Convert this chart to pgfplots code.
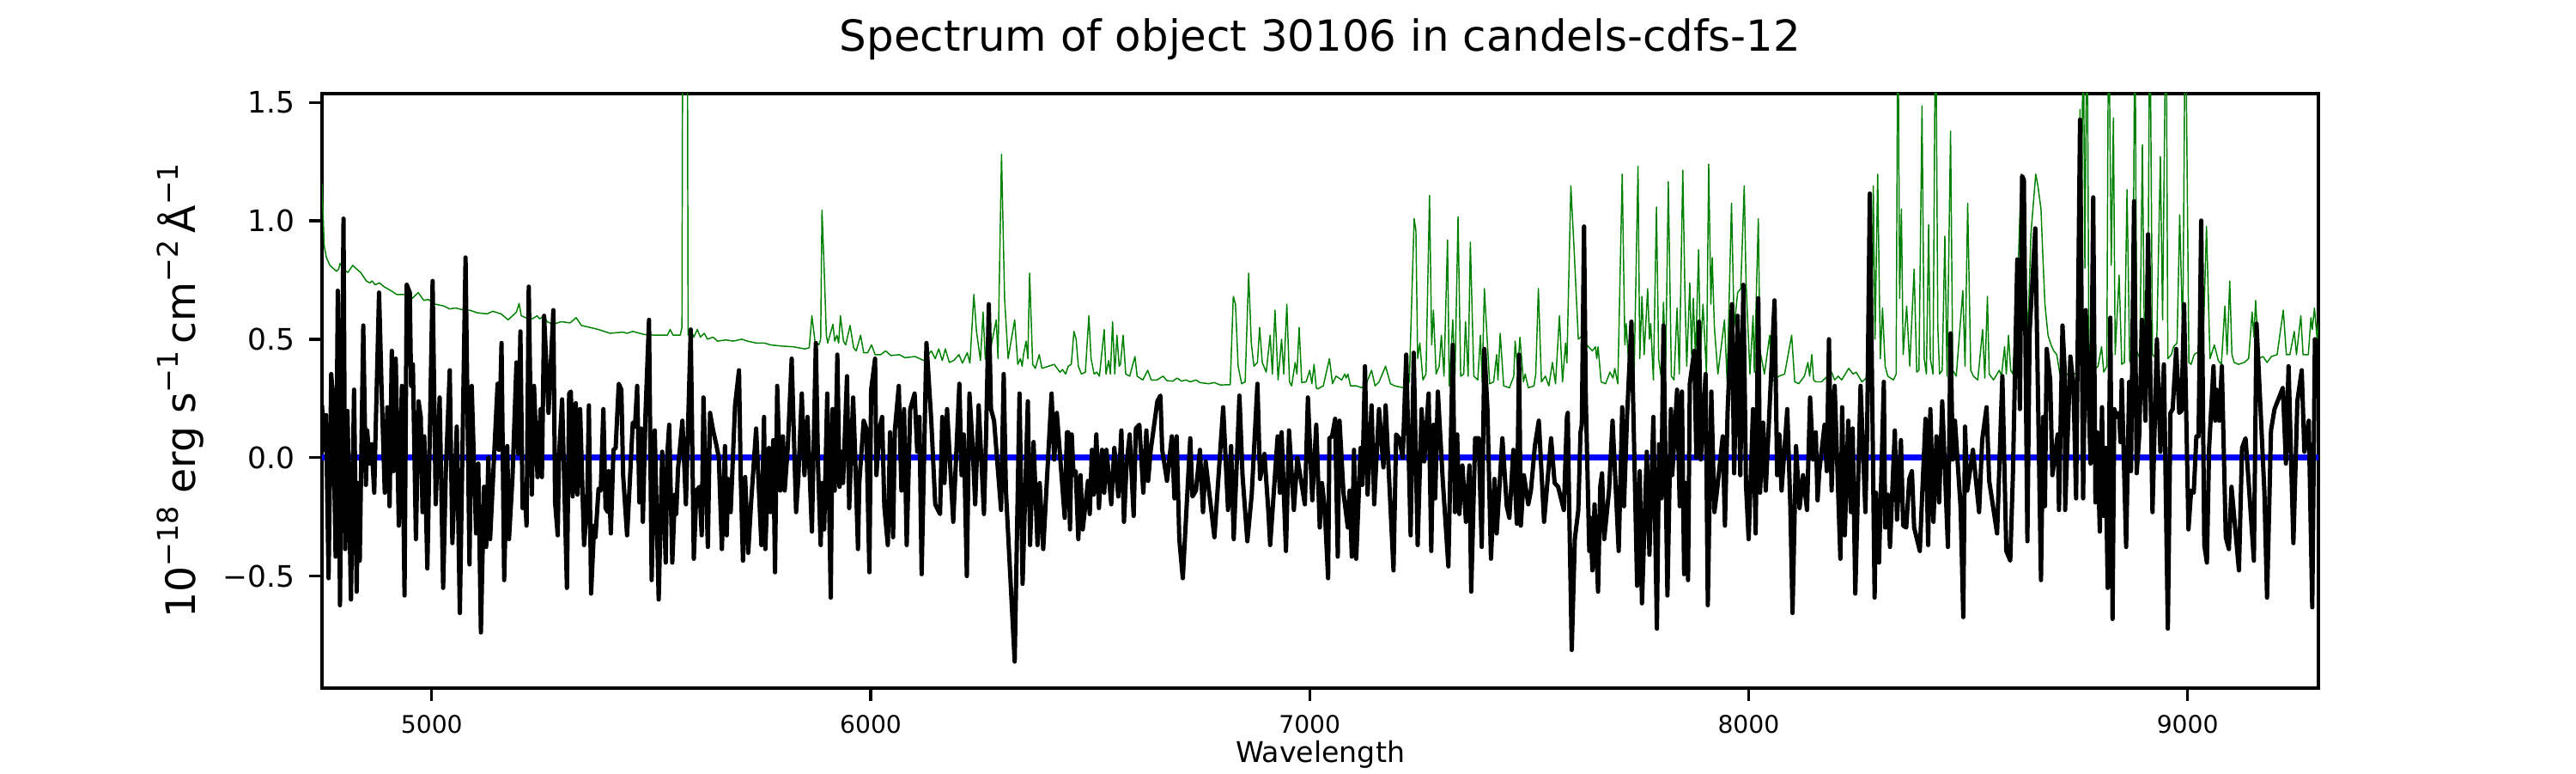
\documentclass[border=0pt]{standalone}
\usepackage{fontspec}
\setmainfont{DejaVu Sans}
\usepackage{pgfplots}
\pgfplotsset{compat=1.18}
\definecolor{mplgreen}{RGB}{0,128,0}
\definecolor{mplblue}{RGB}{0,0,255}
\newcommand{\supr}[1]{\raisebox{4.9bp}{\fontsize{8}{9}\selectfont #1}}
\begin{document}
\begin{tikzpicture}
\begin{axis}[
  at={(90bp,23.76bp)}, anchor=south west,
  scale only axis, width=558bp, height=166.08bp,
  xmin=4750, xmax=9298, ymin=-0.973, ymax=1.537,
  axis line style={line width=0.8bp},
  tick style={line width=0.8bp, black},
  tick align=outside, major tick length=3.5bp,
  xtick pos=left, ytick pos=left,
  xtick={5000,6000,7000,8000,9000},
  xticklabels={5000,6000,7000,8000,9000},
  ytick={-0.5,0,0.5,1,1.5},
  yticklabels={−0.5,0.0,0.5,1.0,1.5},
  xticklabel style={font=\fontsize{6.8}{8}\selectfont, inner sep=0pt, anchor=north, yshift=-3.9bp},
  yticklabel style={font=\fontsize{8.3}{9}\selectfont, inner sep=0pt, anchor=east, xshift=-3.9bp},
  title={Spectrum of object 30106 in candels-cdfs-12},
  title style={at={(axis description cs:0.5,1)}, anchor=base, yshift=6bp, inner sep=0pt, font=\fontsize{12}{14}\selectfont},
  xlabel={Wavelength},
  xlabel style={at={(axis description cs:0.5,-0.1256)}, anchor=base, inner sep=0pt, font=\fontsize{8}{9}\selectfont},
  ylabel={10\supr{−18} erg s\supr{−1}\,cm\supr{−2}\,Å\supr{−1}},
  ylabel style={at={(axis description cs:-0.0633,0.5)}, anchor=base, inner sep=0pt, font=\fontsize{11.4}{13}\selectfont},
]
% green: noise / sky spectrum
\addplot[mplgreen, line width=0.35bp, line join=round] coordinates {
(4750,1.157)(4755,0.894)(4760,0.845)(4768,0.812)(4783,0.787)(4788,0.796)(4791,0.820)(4799,0.796)(4809,0.782)(4820,0.812)(4829,0.796)(4838,0.782)(4851,0.746)(4859,0.738)(4864,0.746)(4871,0.730)(4881,0.738)(4891,0.722)(4907,0.705)(4920,0.689)(4936,0.689)(4946,0.697)(4956,0.673)(4969,0.697)(4982,0.664)(4992,0.668)(5008,0.648)(5028,0.640)(5041,0.628)(5054,0.632)(5073,0.623)(5086,0.623)(5103,0.612)(5126,0.607)(5139,0.618)(5158,0.607)(5174,0.582)(5184,0.599)(5193,0.615)(5199,0.651)(5204,0.599)(5214,0.591)(5230,0.587)(5240,0.599)(5246,0.586)(5255,0.599)(5263,0.574)(5276,0.563)(5295,0.574)(5315,0.569)
(5329,0.591)(5341,0.558)(5360,0.550)(5380,0.541)(5406,0.525)(5435,0.530)(5445,0.525)(5458,0.533)(5484,0.520)(5510,0.517)(5537,0.517)(5543,0.541)(5550,0.517)(5566,0.517)(5570,0.55)(5573,3.0)(5581,3.0)(5584,0.517)(5592,0.533)(5597,0.509)(5605,0.541)(5612,0.509)(5621,0.525)(5628,0.500)(5641,0.509)(5651,0.492)(5670,0.497)(5687,0.492)(5706,0.500)(5719,0.492)(5739,0.484)(5758,0.484)(5772,0.476)(5798,0.471)(5824,0.468)(5850,0.459)(5860,0.464)(5866,0.599)(5873,0.492)(5882,0.476)
(5886,0.50)(5889,1.045)(5894,0.796)(5899,0.517)(5902,0.484)(5914,0.563)(5918,0.492)(5923,0.517)(5927,0.484)(5931,0.599)(5938,0.492)(5943,0.476)(5953,0.558)(5961,0.464)(5967,0.451)(5977,0.517)(5984,0.443)(5993,0.443)(6002,0.476)(6010,0.435)(6023,0.435)(6034,0.451)(6046,0.431)(6065,0.435)(6078,0.422)(6101,0.427)(6121,0.410)(6138,0.451)(6147,0.418)(6155,0.459)(6163,0.410)(6170,0.459)(6179,0.402)(6189,0.410)(6201,0.435)(6209,0.399)(6220,0.443)(6226,0.399)(6235,0.689)(6241,0.533)(6250,0.410)(6256,0.615)(6261,0.418)(6267,0.402)(6286,0.582)(6290,0.418)(6298,1.280)(6305,0.673)(6313,0.418)(6328,0.582)(6335,0.394)(6341,0.418)(6345,0.386)(6348,0.435)(6354,0.492)(6358,0.418)(6362,0.779)(6369,0.394)(6375,0.377)(6384,0.435)(6390,0.377)(6405,0.386)(6418,0.394)(6431,0.361)(6437,0.372)(6444,0.353)(6450,0.386)
(6457,0.394)(6463,0.533)(6468,0.500)(6473,0.386)(6480,0.353)(6489,0.361)(6497,0.599)(6502,0.418)(6509,0.353)(6515,0.361)(6521,0.344)(6532,0.541)(6536,0.353)(6542,0.410)(6546,0.353)(6551,0.574)(6556,0.353)(6561,0.517)(6566,0.386)(6569,0.394)(6575,0.517)(6581,0.353)(6590,0.344)(6602,0.427)(6607,0.344)(6620,0.328)(6631,0.369)(6639,0.328)(6652,0.328)(6666,0.344)(6675,0.325)(6688,0.323)(6698,0.336)(6708,0.323)(6718,0.328)(6728,0.320)(6741,0.328)(6750,0.317)(6770,0.312)(6783,0.317)(6796,0.307)(6819,0.308)(6826,0.681)(6831,0.648)(6837,0.386)(6845,0.312)(6853,0.320)(6861,0.779)(6867,0.484)(6873,0.386)(6881,0.402)(6886,0.550)(6892,0.402)(6901,0.361)(6910,0.517)(6915,0.353)(6921,0.623)(6928,0.328)(6936,0.500)(6941,0.353)(6948,0.648)(6954,0.320)(6959,0.303)(6967,0.402)(6971,0.353)(6976,0.550)(6982,0.317)(6992,0.320)(7000,0.369)(7005,0.312)(7010,0.394)(7015,0.295)(7018,0.290)
(7031,0.303)(7045,0.418)(7052,0.312)(7060,0.344)(7073,0.328)(7080,0.353)(7083,0.336)(7087,0.353)(7093,0.303)(7106,0.303)(7119,0.295)(7129,0.312)(7141,0.369)(7149,0.303)(7158,0.320)(7173,0.386)(7184,0.312)(7194,0.303)(7214,0.295)(7227,0.320)(7238,1.009)(7242,0.960)(7246,0.418)(7251,0.484)(7258,0.328)(7265,0.353)(7273,1.107)(7278,0.476)(7282,0.623)(7288,0.353)(7295,0.386)(7300,0.517)(7306,0.344)(7314,0.919)(7318,0.303)(7326,0.582)(7331,0.344)(7338,1.017)(7344,0.344)(7351,0.353)(7355,0.574)(7361,0.344)(7366,0.910)(7374,0.344)(7383,0.328)(7389,0.517)(7393,0.320)(7398,0.714)(7410,0.312)(7419,0.320)(7426,0.435)(7429,0.328)(7434,0.525)(7442,0.303)(7455,0.295)(7465,0.344)(7468,0.492)(7474,0.369)(7479,0.509)(7487,0.320)(7491,0.353)(7498,0.295)(7511,0.303)(7515,0.353)(7521,0.714)(7528,0.320)(7537,0.344)(7545,0.303)(7553,0.402)(7560,0.312)(7569,0.599)(7576,0.320)(7583,0.484)(7586,0.40)
(7595,1.148)(7602,0.894)(7612,0.500)(7622,0.517)(7631,0.476)(7644,0.451)(7651,0.468)(7654,0.418)(7657,0.468)(7664,0.320)(7674,0.312)(7684,0.361)(7691,0.336)(7695,0.377)(7702,0.312)(7712,1.197)(7718,0.476)(7721,0.566)(7726,0.418)(7739,0.336)(7748,1.230)(7752,0.418)(7757,0.681)(7762,0.435)(7770,0.714)(7774,0.500)(7777,0.566)(7783,0.328)(7790,1.058)(7795,0.418)(7801,0.336)(7806,0.656)(7811,0.386)(7817,1.165)(7824,0.344)(7830,0.328)(7837,0.632)(7842,0.353)(7850,1.214)(7855,0.681)(7859,0.386)(7866,0.738)(7870,0.435)(7874,0.673)(7879,0.418)(7886,0.878)(7890,0.435)(7896,0.648)(7904,0.353)(7909,1.239)(7914,0.648)(7917,0.845)(7922,0.550)(7930,0.353)(7945,0.582)(7951,0.320)(7961,1.074)(7967,0.550)(7975,0.697)(7982,0.714)(7990,1.148)(7994,0.746)(8003,0.353)(8010,0.599)(8013,0.361)(8022,1.009)(8026,0.451)(8036,0.353)(8048,0.517)(8053,0.320)(8069,0.344)(8082,0.353)(8098,0.517)(8105,0.320)(8114,0.312)(8127,0.344)(8135,0.402)(8139,0.344)(8144,0.435)(8148,0.328)(8153,0.320)
(8166,0.320)(8189,0.361)(8196,0.328)(8204,0.344)(8212,0.328)(8228,0.377)(8238,0.353)(8245,0.361)(8258,0.320)(8268,0.336)(8280,0.36)(8284,1.148)(8288,0.500)(8294,1.197)(8300,0.418)(8305,0.632)(8311,0.386)(8317,0.344)(8330,0.328)(8336,0.353)(8340,2.0)(8344,0.673)(8348,1.050)(8352,0.435)(8360,0.640)(8367,0.386)(8377,0.796)(8383,0.361)(8388,0.369)(8395,1.485)(8400,0.418)(8405,0.353)(8410,0.984)(8414,0.418)(8420,0.353)(8426,2.0)(8431,0.550)(8435,0.353)(8441,0.369)(8447,0.935)(8452,0.344)(8460,1.378)(8465,0.369)(8473,0.344)(8488,0.705)(8493,0.386)(8499,1.074)(8506,0.369)(8512,0.344)(8522,0.328)(8533,0.541)(8538,0.336)(8544,0.681)(8548,0.353)(8558,0.328)(8571,0.369)(8576,0.344)(8583,0.468)(8587,0.353)(8592,0.517)(8597,0.369)(8602,0.353)(8613,0.746)(8621,1.197)(8636,0.517)(8643,0.943)(8654,1.197)(8659,1.148)(8666,1.050)(8670,0.861)(8675,0.648)(8682,0.517)(8689,0.476)(8695,0.451)(8702,0.435)(8709,0.353)(8721,0.344)
(8731,0.361)(8741,0.353)(8750,0.36)(8753,0.40)(8755,1.47)(8758,0.70)(8762,2.0)(8766,0.8)(8771,2.0)(8775,0.5)(8780,0.361)(8796,0.386)(8804,0.468)(8809,0.361)(8816,0.386)(8820,2.0)(8826,0.812)(8831,1.435)(8835,0.435)(8844,0.771)(8850,0.394)(8856,0.402)(8862,1.132)(8868,0.410)(8875,0.377)(8880,2.0)(8884,0.451)(8891,0.42)(8897,1.321)(8902,0.418)(8909,0.45)(8914,2.0)(8920,0.435)(8929,0.418)(8938,1.271)(8943,0.582)(8951,2.0)(8955,0.418)(8963,0.435)(8968,0.468)(8976,0.484)(8982,1.025)(8989,0.500)(8995,2.0)(9003,0.402)(9008,0.394)(9015,0.435)(9021,0.443)(9035,0.45)(9043,0.976)(9051,0.418)(9061,0.476)(9070,0.410)(9077,0.394)(9085,0.640)(9090,0.435)(9096,0.746)(9101,0.435)(9106,0.402)(9116,0.394)(9129,0.402)(9139,0.418)(9147,0.615)(9151,0.509)(9155,0.664)(9162,0.418)(9172,0.427)(9181,0.402)(9191,0.427)(9204,0.435)(9218,0.623)(9225,0.435)(9233,0.435)(9243,0.533)(9248,0.435)(9258,0.599)(9263,0.435)(9275,0.435)(9281,0.591)(9284,0.541)(9289,0.632)(9295,0.50)(9299,0.58)
};
% blue zero line
\addplot[mplblue, line width=1.6bp] coordinates {(4750,0)(9298,0)};
% black: object spectrum
\addplot[black, line width=1.2bp, line join=round] coordinates {
(4750,0.221)(4755,0.033)(4759,0.180)(4765,-0.509)(4771,0.353)(4775,0.254)(4781,-0.418)(4786,0.705)(4791,-0.623)(4799,1.009)(4803,-0.386)(4808,0.197)(4816,-0.599)(4823,0.287)(4829,-0.566)(4832,-0.107)(4836,-0.435)(4844,0.558)(4850,-0.115)(4853,0.115)(4858,-0.025)(4863,0.057)(4869,-0.148)(4873,0.172)(4880,0.697)(4886,0.271)(4893,-0.148)(4899,0.213)(4904,-0.205)(4909,0.451)(4913,-0.057)(4918,0.418)(4925,-0.287)(4932,0.303)(4938,-0.582)(4943,0.730)(4950,0.697)(4953,0.303)(4957,0.394)(4964,-0.344)(4970,0.238)(4975,0.172)(4979,-0.230)(4983,0.090)(4990,-0.468)(5002,0.746)(5009,-0.197)(5018,0.254)(5026,-0.550)(5032,-0.066)(5041,0.369)(5047,-0.361)(5057,0.131)(5064,-0.656)(5077,0.845)(5086,-0.451)(5091,0.303)(5101,-0.320)(5106,-0.025)(5112,-0.738)(5119,-0.123)(5124,-0.377)(5129,0.000)(5133,-0.344)(5150,0.312)(5153,0.033)(5159,0.484)(5165,-0.517)(5172,0.049)(5176,-0.344)(5184,-0.082)(5193,0.402)(5197,0.016)(5202,0.533)(5207,-0.213)(5212,-0.139)(5216,-0.287)(5221,0.722)(5228,-0.156)(5233,0.303)(5241,-0.082)(5248,0.205)(5251,-0.082)(5256,0.599)(5266,0.189)(5277,0.623)(5281,-0.189)(5287,-0.328)(5290,0.008)(5297,0.246)(5308,-0.550)(5313,0.271)
(5317,0.279)(5321,-0.164)(5328,0.230)(5332,-0.156)(5338,0.205)(5347,-0.369)(5354,-0.197)(5358,0.221)(5363,-0.574)(5370,-0.287)(5373,-0.336)(5380,-0.131)(5385,-0.139)(5391,0.205)(5396,-0.213)(5401,-0.230)(5403,-0.057)(5408,-0.320)(5414,0.033)(5419,0.041)(5426,0.312)(5432,0.287)(5436,-0.074)(5445,-0.328)(5452,-0.074)(5458,0.148)(5463,0.131)(5468,0.303)(5473,-0.189)(5477,0.123)(5481,-0.271)(5487,0.189)(5495,0.582)(5501,-0.517)(5508,0.115)(5517,-0.599)(5525,0.025)(5533,-0.443)(5537,0.025)(5541,0.139)(5548,-0.443)(5554,-0.156)(5557,-0.238)(5561,-0.049)(5571,0.156)(5579,-0.197)(5590,0.541)(5597,-0.427)(5603,-0.139)(5610,-0.123)(5615,-0.328)(5619,0.254)(5629,-0.377)(5634,0.189)(5641,0.115)(5648,0.057)(5654,0.000)(5661,-0.386)(5668,0.049)(5672,-0.328)(5675,-0.090)(5681,-0.230)(5691,0.221)(5700,0.369)(5704,-0.090)(5709,-0.435)(5714,-0.082)(5721,-0.402)(5727,-0.205)(5739,0.123)(5751,-0.369)(5757,0.172)(5760,-0.386)(5768,0.041)(5772,-0.230)(5778,0.074)(5782,-0.484)(5787,0.303)(5794,-0.139)(5800,0.090)(5804,-0.139)(5811,0.041)(5820,0.418)(5830,-0.230)(5835,-0.090)(5843,0.271)(5849,-0.074)(5856,0.172)(5866,-0.312)(5875,0.484)(5880,-0.033)
(5886,-0.369)(5890,-0.107)(5894,-0.303)(5901,0.271)(5909,-0.591)(5913,0.205)(5918,-0.139)(5924,0.435)(5929,-0.123)(5933,0.025)(5937,-0.107)(5946,0.344)(5951,-0.213)(5960,0.254)(5964,0.041)(5971,-0.386)(5974,-0.107)(5984,0.156)(5990,0.123)(5997,-0.484)(6001,0.287)(6010,0.418)(6013,-0.074)(6020,0.123)(6026,0.172)(6031,-0.205)(6039,-0.369)(6044,0.107)(6051,-0.336)(6055,0.115)(6064,0.303)(6070,-0.139)(6076,0.205)(6082,-0.369)(6090,0.205)(6100,0.271)(6106,0.025)(6111,0.172)(6116,-0.492)(6127,0.484)(6138,0.156)(6147,-0.197)(6158,-0.238)(6163,0.172)(6168,-0.107)(6174,0.205)(6188,-0.271)(6202,0.312)(6207,-0.074)(6212,0.098)(6219,-0.500)(6225,0.271)(6232,0.057)(6238,-0.197)(6246,0.221)(6258,-0.238)(6263,0.107)(6269,0.648)(6274,0.205)(6281,0.156)(6297,-0.221)(6303,0.353)(6308,-0.139)(6328,-0.861)(6339,0.271)(6346,-0.533)(6358,0.238)(6363,-0.369)(6371,0.066)(6380,-0.369)(6385,-0.107)(6393,-0.386)(6412,0.271)(6418,-0.008)(6424,0.189)(6442,-0.254)(6447,0.107)
(6450,0.107)(6454,-0.303)(6458,0.098)(6462,-0.074)(6467,-0.057)(6473,-0.344)(6478,-0.074)(6483,-0.303)(6495,-0.098)(6499,-0.238)(6504,0.033)(6508,-0.156)(6514,0.098)(6520,-0.213)(6527,0.033)(6532,-0.148)(6537,0.033)(6548,-0.197)(6555,0.041)(6564,-0.164)(6571,0.115)(6577,-0.271)(6583,-0.025)(6590,0.098)(6599,-0.246)(6604,0.123)(6612,0.139)(6621,-0.148)(6628,0.115)(6632,-0.098)(6638,0.033)(6653,0.238)(6660,0.262)(6664,0.033)(6675,-0.098)(6686,0.090)(6692,-0.172)(6697,0.090)(6703,-0.344)(6711,-0.509)(6728,0.082)(6733,-0.164)(6741,-0.139)(6750,0.033)(6757,-0.230)(6763,-0.016)(6783,-0.336)(6803,0.213)(6814,-0.221)(6821,0.049)(6827,-0.344)(6840,0.262)(6847,-0.074)(6858,-0.353)(6868,-0.156)(6881,0.312)(6887,-0.090)(6897,0.016)(6906,-0.230)(6910,-0.369)(6927,0.090)(6932,-0.148)(6936,0.107)(6946,-0.394)(6953,0.115)(6964,-0.221)(6972,0.000)(6989,-0.197)(6996,0.254)(7006,-0.180)(7015,0.139)
(7023,-0.295)(7028,-0.107)(7034,-0.205)(7042,-0.509)(7045,0.082)(7051,0.090)(7058,0.164)(7064,-0.418)(7068,0.156)(7077,-0.148)(7087,-0.295)(7091,-0.139)(7096,-0.418)(7101,0.033)(7106,-0.427)(7116,0.041)(7120,-0.115)(7126,0.386)(7132,-0.156)(7141,0.221)(7147,-0.197)(7152,-0.008)(7158,0.205)(7168,-0.041)(7173,0.221)(7191,-0.476)(7197,0.098)(7204,0.082)(7212,0.000)(7220,0.435)(7230,-0.328)(7237,0.443)(7246,-0.369)(7255,0.205)(7261,-0.016)(7271,0.271)(7277,-0.394)(7282,0.139)(7286,-0.172)(7292,0.279)(7303,-0.090)(7316,-0.459)(7326,0.476)(7331,-0.230)(7336,0.098)(7341,-0.238)(7348,-0.033)(7356,-0.271)(7364,-0.033)(7368,-0.566)(7377,0.082)(7385,0.082)(7392,-0.377)(7398,0.459)(7405,0.205)(7413,-0.427)(7421,-0.090)(7426,-0.320)(7439,0.082)(7449,-0.205)(7455,-0.254)(7464,0.033)(7472,-0.279)(7477,0.435)(7481,-0.287)(7488,-0.074)(7498,-0.197)(7504,-0.139)(7513,0.049)(7522,0.156)(7534,-0.271)(7550,0.082)(7558,-0.107)(7566,-0.123)(7579,-0.221)(7586,0.172)
(7588,0.189)(7590,-0.074)(7597,-0.812)(7604,-0.344)(7612,-0.221)(7617,0.107)(7620,0.139)(7625,0.976)(7629,0.254)(7637,-0.394)(7640,-0.254)(7644,-0.476)(7649,-0.197)(7657,-0.566)(7662,-0.123)(7666,-0.066)(7671,-0.344)(7682,-0.139)(7690,0.156)(7704,-0.394)(7712,0.213)(7716,-0.205)(7723,0.172)(7733,0.574)(7746,-0.541)(7752,-0.057)(7757,-0.615)(7768,0.025)(7774,-0.410)(7783,0.172)(7791,-0.722)(7796,0.057)(7801,-0.172)(7806,0.558)(7815,-0.582)(7823,0.205)(7826,-0.074)(7837,0.287)(7843,-0.205)(7848,0.279)(7853,-0.492)(7857,-0.107)(7862,-0.517)(7866,0.312)(7876,0.451)(7881,0.000)(7887,0.574)(7891,-0.008)(7902,0.353)(7907,-0.623)(7915,0.279)(7922,-0.230)(7928,-0.139)(7941,0.090)(7946,-0.287)(7952,0.189)(7962,0.648)(7967,-0.066)(7975,0.599)(7981,-0.074)(7988,0.730)(7994,-0.115)(8000,-0.344)(8010,0.205)(8016,-0.320)(8022,0.673)(8026,-0.148)(8033,0.148)(8039,-0.139)(8059,0.664)(8065,-0.074)(8070,0.098)(8075,-0.139)(8088,0.205)(8095,-0.205)(8100,-0.656)(8108,0.049)(8116,-0.213)(8124,-0.074)(8133,-0.221)(8140,0.254)(8147,-0.008)(8151,0.090)
(8153,0.107)(8157,-0.180)(8161,-0.057)(8173,0.139)(8178,-0.057)(8183,0.500)(8189,-0.139)(8196,0.303)(8209,-0.427)(8213,0.213)(8219,-0.328)(8227,0.156)(8233,-0.230)(8237,0.123)(8243,-0.574)(8255,0.303)(8266,-0.230)(8270,0.107)(8276,1.115)(8287,-0.591)(8290,-0.148)(8297,-0.443)(8308,0.320)(8311,-0.295)(8317,-0.156)(8322,-0.377)(8333,0.115)(8338,-0.262)(8347,0.074)(8352,-0.287)(8359,-0.295)(8366,-0.090)(8372,-0.057)(8377,-0.295)(8390,-0.394)(8395,-0.172)(8403,0.164)(8409,-0.369)(8414,0.205)(8421,-0.271)(8428,0.090)(8434,-0.189)(8441,0.238)(8454,-0.377)(8460,0.525)(8465,-0.008)(8470,0.156)(8483,-0.213)(8489,-0.673)(8493,0.131)(8498,-0.139)(8511,0.033)(8525,-0.230)(8532,0.074)(8542,0.213)(8548,-0.098)(8566,-0.320)(8578,0.344)(8587,-0.394)(8596,-0.435)(8602,-0.074)(8612,0.837)(8618,0.205)(8623,1.189)(8627,1.173)(8635,-0.353)(8640,0.525)(8653,0.968)(8666,-0.517)(8671,0.172)(8675,-0.205)(8679,0.459)(8687,0.328)(8692,-0.074)(8704,0.098)(8707,-0.221)(8715,0.558)(8720,0.369)
(8721,-0.221)(8733,0.427)(8740,0.303)(8746,-0.172)(8755,1.427)(8762,-0.172)(8768,0.623)(8779,-0.025)(8785,1.099)(8790,-0.189)(8794,0.107)(8800,-0.312)(8805,0.213)(8809,-0.246)(8813,0.041)(8818,-0.550)(8824,0.591)(8829,-0.681)(8833,0.205)(8839,0.172)(8844,0.189)(8847,0.066)(8850,0.328)(8860,-0.377)(8867,0.320)(8871,-0.057)(8878,1.083)(8884,-0.066)(8890,0.098)(8896,0.582)(8904,0.156)(8910,0.943)(8920,-0.230)(8930,0.500)(8938,0.025)(8946,0.394)(8955,-0.722)(8961,0.189)(8966,0.205)(8974,0.459)(8981,0.189)(8986,0.197)(8992,0.648)(9002,-0.303)(9008,-0.139)(9014,-0.148)(9020,0.090)(9025,0.090)(9031,1.001)(9038,-0.369)(9044,-0.443)(9049,0.041)(9059,0.386)(9063,0.156)(9066,0.287)(9072,0.156)(9078,0.386)(9087,-0.336)(9094,-0.386)(9100,-0.123)(9117,-0.476)(9124,0.041)(9132,0.082)(9138,-0.074)(9151,-0.435)(9157,0.566)(9167,0.172)(9175,-0.148)(9181,-0.591)(9190,0.115)(9198,0.205)(9217,0.295)(9224,-0.025)(9230,0.386)(9241,-0.361)(9250,0.238)(9260,0.369)(9266,0.025)(9276,0.156)(9284,-0.632)(9290,0.500)(9295,0.320)(9299,0.500)
};
\end{axis}
\pgfresetboundingbox
\path[use as bounding box] (0,0) rectangle (720bp,216bp);
\end{tikzpicture}
\end{document}
